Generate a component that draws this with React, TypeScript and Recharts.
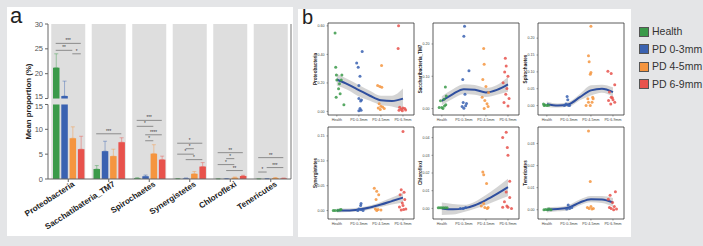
import React from "react";
import {
  Area,
  Bar,
  BarChart,
  ComposedChart,
  ErrorBar,
  Line,
  ReferenceArea,
  ReferenceLine,
  Scatter,
  XAxis,
  YAxis,
} from "recharts";

// ---- panel a: mean proportions (%) ----
const CATEGORIES = ["Proteobacteria", "Sacchatibateria_TM7", "Spirochaetes", "Synergistetes", "Chloroflexi", "Tenericutes"];
const GROUPS = ["Health", "PD 0-3mm", "PD 4-5mm", "PD 6-9mm"];
const COLORS = ["#3b9a4a", "#3a62b1", "#f5953f", "#e8524c"];

const HEALTH = [21.2, 2.0, 0.15, 0.05, 0.03, 0.03];
const PD03 = [15.5, 5.6, 0.55, 0.12, 0.05, 0.05];
const PD45 = [8.2, 4.6, 5.1, 1.05, 0.25, 0.2];
const PD69 = [6.0, 7.4, 3.9, 2.5, 0.6, 0.12];
// top of the error whiskers
const HEALTH_TOP = [24.0, 2.7, 0.25, 0.1, 0.05, 0.05];
const PD03_TOP = [18.5, 7.6, 0.8, 0.2, 0.1, 0.1];
const PD45_TOP = [10.5, 6.0, 6.9, 1.5, 0.4, 0.3];
const PD69_TOP = [8.6, 8.3, 4.6, 3.3, 0.75, 0.2];

// [category, from group, to group, height %, label]
const BRACKETS: [number, number, number, number, string][] = [
  [0, 0, 3, 26.1, "***"], [0, 0, 2, 24.7, "**"], [0, 2, 3, 24.0, "*"],
  [1, 0, 3, 9.1, "***"],
  [2, 0, 3, 11.8, "***"], [2, 0, 2, 10.6, "*"], [2, 1, 3, 8.9, "****"], [2, 1, 2, 7.7, "*"],
  [3, 0, 3, 7.2, "*"], [3, 1, 2, 6.1, "*"], [3, 0, 2, 5.0, "*"], [3, 1, 3, 3.9, "*"],
  [4, 0, 3, 5.3, "**"], [4, 1, 2, 4.1, "*"], [4, 0, 2, 2.9, "*"], [4, 1, 3, 1.7, "**"],
  [5, 0, 3, 4.3, "**"], [5, 1, 3, 2.3, "***"], [5, 0, 1, 1.4, "*"],
];

const BRK = 15; // axis break
const GAP = 1.2;
const tr = (v: number) => (v > BRK ? v + GAP : v);
const Y_TICKS = [0, 5, 10, 15, 15 + GAP, 20 + GAP, 25 + GAP, 30 + GAP];
const BAND = "#dedede";
const KEYS = ["h", "p03", "p45", "p69"];
const OFFS = [0.19, 0.4, 0.6, 0.81];

const SERIES = [
  [HEALTH, HEALTH_TOP],
  [PD03, PD03_TOP],
  [PD45, PD45_TOP],
  [PD69, PD69_TOP],
];

const barData = CATEGORIES.map((name, i) => {
  const row: any = { name, idx: i + 0.5 };
  SERIES.forEach(([vals, tops], g) => {
    row[KEYS[g]] = tr(vals[i]);
    row[KEYS[g] + "Err"] = [0, tr(tops[i]) - tr(vals[i])];
  });
  return row;
});

const brokenBar = (key: string) => (p: any) => {
  const v = p.payload[key];
  const { x, y, width, height, fill } = p;
  if (!height || height <= 0) return <g />;
  const base = y + height;
  const ppu = height / v;
  return (
    <g>
      <rect x={x} y={y} width={width} height={height} fill={fill} />
      {v > BRK && <rect x={x - 0.5} y={base - (BRK + GAP) * ppu} width={width + 1} height={GAP * ppu} fill={BAND} />}
    </g>
  );
};

const XTick = ({ x, y, payload }: any) => (
  <g transform={`translate(${x},${y})`}>
    <text x={5} y={5} textAnchor="end" transform="rotate(-33)" fontSize={8.2} fontWeight="bold" fill="#222">
      {payload.value}
    </text>
  </g>
);

// y ticks of the broken axis: the two "15"s are pushed apart
const YTick = ({ x, y, payload }: any) => {
  const v = payload.value;
  const shift = v === BRK ? 2.5 : v === BRK + GAP ? -2.5 : 0;
  const label = v > BRK + 0.5 ? Math.round(v - GAP) : v;
  return (
    <text x={x} y={y + shift} textAnchor="end" dominantBaseline="central" fontSize={7.5} fill="#555">
      {label}
    </text>
  );
};

const rotText = (p: any, off: number, size: number, bold = true) => {
  const vb = p.viewBox;
  const x = vb.x + off;
  const y = vb.y + vb.height / 2;
  return (
    <text x={x} y={y} transform={`rotate(-90 ${x} ${y})`} textAnchor="middle" dominantBaseline="central"
      fontSize={size} fontWeight={bold ? "bold" : "normal"} fill="#222">
      {p.value}
    </text>
  );
};

function PanelA() {
  return (
    <BarChart width={300} height={246} data={barData} margin={{ top: 24, right: 9, bottom: 7, left: 0 }}
      barSize={6.5} barGap={1.8} style={{ position: "absolute", left: 0, top: 0 }}>
      <XAxis dataKey="name" interval={0} tick={<XTick />} height={60} tickSize={3}
        axisLine={{ stroke: "#666" }} tickLine={{ stroke: "#666" }} />
      <XAxis xAxisId="pos" type="number" dataKey="idx" domain={[0, 6]} hide allowDataOverflow />
      <YAxis width={48} domain={[0, 30 + GAP]} ticks={Y_TICKS} interval={0} allowDataOverflow
        tick={<YTick />} tickSize={3} axisLine={false} tickLine={{ stroke: "#666" }}
        label={{ value: "Mean proportion (%)", content: (p: any) => rotText(p, 28, 7.8) }} />
      {CATEGORIES.map((c, i) => (
        <ReferenceArea key={c} xAxisId="pos" x1={i + 0.08} x2={i + 0.92} y1={0} y2={30 + GAP}
          fill={BAND} fillOpacity={1} stroke="none" />
      ))}
      {KEYS.map((k, g) => (
        <Bar key={k} dataKey={k} name={GROUPS[g]} fill={COLORS[g]} isAnimationActive={false} shape={brokenBar(k)}>
          <ErrorBar dataKey={k + "Err"} width={2} stroke={COLORS[g]} strokeOpacity={0.55} strokeWidth={0.8} direction="y" />
        </Bar>
      ))}
      <ReferenceLine xAxisId="pos" segment={[{ x: 0, y: 0 }, { x: 0, y: BRK }]} stroke="#666" />
      <ReferenceLine xAxisId="pos" segment={[{ x: 0, y: BRK + GAP }, { x: 0, y: 30 + GAP }]} stroke="#666" />
      <ReferenceLine xAxisId="pos" segment={[{ x: 6, y: 0 }, { x: 6, y: 30 + GAP }]} stroke="#777" />
      {BRACKETS.map(([c, a, b, h, lab], i) => (
        <ReferenceLine key={i} xAxisId="pos" stroke="#555" strokeWidth={0.6}
          segment={[{ x: c + OFFS[a], y: tr(h) }, { x: c + OFFS[b], y: tr(h) }]}
          label={{ value: lab, position: "top", fontSize: 4.5, fill: "#333", offset: 1 }} />
      ))}
    </BarChart>
  );
}

// ---- panel b: per-sample relative abundance, jittered [x, y] per group ----
const FIT_X = [1, 1.5, 2, 2.5, 3, 3.5, 4];

const PROTEO = [
  [[0.92, 0.55], [0.95, 0.31], [0.98, 0.256], [1.23, 0.256], [1.0, 0.221], [1.2, 0.221], [1.12, 0.194], [1.08, 0.159], [1.15, 0.124], [0.97, 0.1], [1.32, 0.047]],
  [[2.15, 0.42], [1.9, 0.34], [1.97, 0.31], [2.05, 0.247], [2.0, 0.182], [2.0, 0.09], [2.08, 0.073], [2.12, 0.08], [2.05, 0.02], [2.1, 0.009], [2.0, 0.005]],
  [[3.03, 0.322], [2.85, 0.182], [2.95, 0.175], [3.04, 0.17], [2.92, 0.054], [3.0, 0.036], [3.08, 0.031], [2.88, 0.024], [2.97, 0.014], [3.15, 0.02]],
  [[3.8, 0.6], [3.78, 0.442], [4.0, 0.024], [3.92, 0.015], [4.08, 0.02], [3.82, 0.009], [4.12, 0.01], [3.97, 0.004], [3.85, 0.03]],
];
const PROTEO_FIT = [0.224, 0.19, 0.15, 0.11, 0.078, 0.073, 0.09];
const PROTEO_LO = [0.182, 0.15, 0.105, 0.075, 0.045, 0.035, 0.01];
const PROTEO_HI = [0.265, 0.225, 0.185, 0.145, 0.11, 0.11, 0.16];

const SACCH = [
  [[0.88, 0.003], [1.0, 0.003], [1.12, 0.008], [1.2, 0.039], [1.16, 0.067], [1.1, 0.029], [0.94, 0.024], [1.05, 0.0], [1.18, 0.012]],
  [[2.03, 0.255], [2.0, 0.224], [2.23, 0.117], [1.95, 0.09], [2.05, 0.044], [1.97, 0.019], [2.08, 0.009], [2.0, 0.001], [2.12, 0.016], [1.92, 0.006]],
  [[2.9, 0.186], [2.92, 0.137], [2.86, 0.09], [3.0, 0.068], [2.83, 0.035], [2.95, 0.025], [3.05, 0.015], [2.92, 0.0], [3.1, 0.006], [3.12, 0.05]],
  [[3.88, 0.156], [3.92, 0.132], [3.85, 0.113], [4.0, 0.1], [3.78, 0.08], [3.95, 0.062], [3.9, 0.044], [4.05, 0.031], [3.82, 0.019], [4.0, 0.008]],
];
const SACCH_FIT = [0.024, 0.045, 0.06, 0.058, 0.05, 0.058, 0.075];
const SACCH_LO = [0.01, 0.03, 0.045, 0.043, 0.036, 0.043, 0.052];
const SACCH_HI = [0.038, 0.06, 0.075, 0.073, 0.064, 0.073, 0.098];

const SPIRO = [
  [[0.85, 0.005], [0.92, 0.002], [1.0, 0.0], [1.08, 0.001], [0.88, 0.0]],
  [[1.92, 0.027], [1.95, 0.017], [1.87, 0.005], [2.03, 0.0], [1.98, 0.001], [1.8, 0.0]],
  [[3.0, 0.235], [2.89, 0.148], [2.92, 0.13], [3.0, 0.098], [2.97, 0.093], [2.86, 0.02], [3.1, 0.02], [2.89, 0.01], [3.05, 0.01], [2.78, 0.0], [2.97, 0.0], [3.08, 0.025]],
  [[3.77, 0.102], [3.92, 0.095], [4.08, 0.062], [3.84, 0.04], [3.92, 0.025], [4.0, 0.017], [3.8, 0.015], [4.08, 0.01], [3.9, 0.005], [3.97, 0.023]],
];
const SPIRO_FIT = [0.004, 0.0, 0.004, 0.025, 0.045, 0.05, 0.04];
const SPIRO_LO = [-0.004, -0.006, -0.003, 0.016, 0.03, 0.038, 0.026];
const SPIRO_HI = [0.012, 0.006, 0.011, 0.034, 0.06, 0.062, 0.054];

const SYNER = [
  [[0.84, 0.0], [0.92, 0.0], [1.03, 0.0], [1.13, 0.001], [1.19, 0.002]],
  [[2.1, 0.014], [2.08, 0.01], [2.0, 0.003], [1.95, 0.0], [2.1, 0.002], [2.19, 0.0]],
  [[2.7, 0.045], [2.81, 0.039], [2.9, 0.032], [2.78, 0.022], [2.75, 0.003], [2.87, 0.002], [3.0, 0.001], [2.81, 0.0]],
  [[4.0, 0.159], [3.92, 0.042], [4.05, 0.037], [3.87, 0.032], [4.08, 0.022], [3.97, 0.015], [4.0, 0.01], [3.84, 0.007], [4.13, 0.003], [3.92, 0.001], [4.03, 0.002]],
];
const SYNER_FIT = [0.0, 0.0, 0.002, 0.006, 0.012, 0.019, 0.026];
const SYNER_LO = [-0.004, -0.003, -0.002, 0.002, 0.007, 0.012, 0.016];
const SYNER_HI = [0.004, 0.004, 0.006, 0.01, 0.017, 0.026, 0.036];

const CHLORO = [
  [[0.84, 0.0003], [0.92, 0.0003], [1.0, 0.0003], [1.08, 0.0003], [1.16, 0.0003], [1.24, 0.0003]],
  [[1.84, 0.0], [1.97, 0.0], [2.08, 0.0005]],
  [[2.86, 0.0205], [2.9, 0.019], [3.03, 0.014], [2.79, 0.0013], [2.95, 0.0005], [3.06, 0.0], [2.9, 0.0028], [3.1, 0.0005]],
  [[3.92, 0.043], [3.76, 0.04], [3.97, 0.0344], [4.0, 0.0301], [4.08, 0.0153], [3.92, 0.0093], [4.08, 0.0061], [3.84, 0.0037], [4.0, 0.0006], [4.16, 0.0], [3.76, 0.0006], [3.95, 0.0013]],
];
const CHLORO_FIT = [0.0, -0.0005, 0.0, 0.0018, 0.0047, 0.0082, 0.012];
const CHLORO_LO = [-0.0037, -0.0035, -0.002, -0.0002, 0.0019, 0.0045, 0.0069];
const CHLORO_HI = [0.0033, 0.0025, 0.002, 0.0038, 0.0075, 0.012, 0.0168];

const TENER = [
  [[0.87, 0.0], [0.95, 0.0001], [1.03, 0.0], [1.1, 0.0003], [1.19, 0.0]],
  [[1.97, 0.0021], [2.03, 0.0006], [1.9, 0.0003], [2.13, 0.001]],
  [[2.89, 0.0357], [2.97, 0.0128], [2.84, 0.001], [2.92, 0.0006], [3.05, 0.0003], [3.0, 0.0015], [3.11, 0.0006]],
  [[4.11, 0.0081], [3.87, 0.0066], [3.79, 0.0048], [3.98, 0.0033], [4.06, 0.0015], [3.84, 0.001], [3.92, 0.0006], [4.16, 0.0003], [4.03, 0.0]],
];
const TENER_FIT = [0.0, 0.0003, 0.001, 0.0033, 0.0048, 0.0046, 0.0033];
const TENER_LO = [-0.0012, -0.0007, -0.0002, 0.002, 0.0034, 0.003, 0.0013];
const TENER_HI = [0.0012, 0.0013, 0.0022, 0.0046, 0.0062, 0.0062, 0.0053];

const FW = 86;
const FH = 92;

type MiniProps = {
  left: number; top: number; title: string; dom: [number, number]; ticks: number[];
  pts: number[][][]; fit: number[]; lo: number[]; hi: number[];
};

function MiniPlot({ left, top, title, dom, ticks, pts, fit, lo, hi }: MiniProps) {
  const data = FIT_X.map((x, i) => ({ x, fit: fit[i], band: [lo[i], hi[i]] }));
  return (
    <ComposedChart width={23 + FW + 5} height={8 + FH + 10} data={data}
      margin={{ top: 8, right: 5, bottom: 0, left: 0 }}
      style={{ position: "absolute", left: left - 23, top: top - 8 }}>
      <XAxis dataKey="x" type="number" domain={[0.6, 4.5]} ticks={[1, 2, 3, 4]} interval={0} allowDataOverflow
        tickFormatter={(v: number) => GROUPS[v - 1]} height={10} tickSize={1.5}
        tick={{ fontSize: 3.6, fill: "#444" }} axisLine={false} tickLine={{ stroke: "#444", strokeWidth: 0.5 }} />
      <YAxis type="number" domain={dom} ticks={ticks} interval={0} allowDataOverflow width={23}
        tickFormatter={(v: number) => v.toFixed(2)} tickSize={1.5}
        tick={{ fontSize: 3.6, fill: "#444" }} axisLine={false} tickLine={{ stroke: "#444", strokeWidth: 0.5 }}
        label={{ value: title, content: (p: any) => rotText(p, 10, 4.6) }} />
      {pts.map((g, gi) => (
        <Scatter key={gi} data={g.map(([x, y]) => ({ x, y }))} dataKey="y" isAnimationActive={false}
          shape={(p: any) => <circle cx={p.cx} cy={p.cy} r={1.5} fill={COLORS[gi]} fillOpacity={0.85} />} />
      ))}
      <Area dataKey="band" type="monotone" stroke="none" fill="#a0a0a0" fillOpacity={0.45} isAnimationActive={false} />
      <Line dataKey="fit" type="monotone" stroke="#2f4f9f" strokeWidth={2} dot={false} isAnimationActive={false} />
      <ReferenceArea x1={0.6} x2={4.5} y1={dom[0]} y2={dom[1]} fill="none" stroke="#333" strokeWidth={0.8} />
    </ComposedChart>
  );
}

export default function App() {
  return (
    <div style={{ position: "absolute", left: 0, top: 0, width: 703, height: 246, background: "#e4e5e7",
      overflow: "hidden", fontFamily: "'Liberation Sans', Arial, sans-serif" }}>
      <div style={{ position: "absolute", left: 7, top: 7, width: 286, height: 229, background: "#fff" }} />
      <div style={{ position: "absolute", left: 298, top: 9, width: 333, height: 228, background: "#fff" }} />
      <PanelA />
      <div style={{ position: "absolute", left: 10, top: 3, fontSize: 22, color: "#222" }}>a</div>
      <div style={{ position: "absolute", left: 302, top: 6, fontSize: 20, color: "#222" }}>b</div>
      <MiniPlot left={328} top={23} title="Proteobacteria" dom={[-0.025, 0.62]} ticks={[0, 0.2, 0.4, 0.6]}
        pts={PROTEO} fit={PROTEO_FIT} lo={PROTEO_LO} hi={PROTEO_HI} />
      <MiniPlot left={433} top={23} title="Saccharibacteria_TM7" dom={[-0.02, 0.265]} ticks={[0, 0.1, 0.2]}
        pts={SACCH} fit={SACCH_FIT} lo={SACCH_LO} hi={SACCH_HI} />
      <MiniPlot left={538} top={23} title="Spirochaetes" dom={[-0.028, 0.245]} ticks={[0, 0.05, 0.1, 0.15, 0.2]}
        pts={SPIRO} fit={SPIRO_FIT} lo={SPIRO_LO} hi={SPIRO_HI} />
      <MiniPlot left={328} top={127} title="Synergistetes" dom={[-0.017, 0.168]} ticks={[0, 0.05, 0.1, 0.15]}
        pts={SYNER} fit={SYNER_FIT} lo={SYNER_LO} hi={SYNER_HI} />
      <MiniPlot left={433} top={127} title="Chloroflexi" dom={[-0.006, 0.046]} ticks={[0, 0.01, 0.02, 0.03, 0.04]}
        pts={CHLORO} fit={CHLORO_FIT} lo={CHLORO_LO} hi={CHLORO_HI} />
      <MiniPlot left={538} top={127} title="Tenericutes" dom={[-0.0042, 0.0375]} ticks={[0, 0.01, 0.02, 0.03]}
        pts={TENER} fit={TENER_FIT} lo={TENER_LO} hi={TENER_HI} />
      {GROUPS.map((g, i) => (
        <div key={g} style={{ position: "absolute", left: 639, top: 26.5 + i * 17.5, display: "flex", alignItems: "center" }}>
          <div style={{ width: 8, height: 8, background: COLORS[i], border: "0.5px solid #555" }} />
          <span style={{ marginLeft: 3, fontSize: 10.5, color: "#333", lineHeight: "9px" }}>{g}</span>
        </div>
      ))}
    </div>
  );
}
